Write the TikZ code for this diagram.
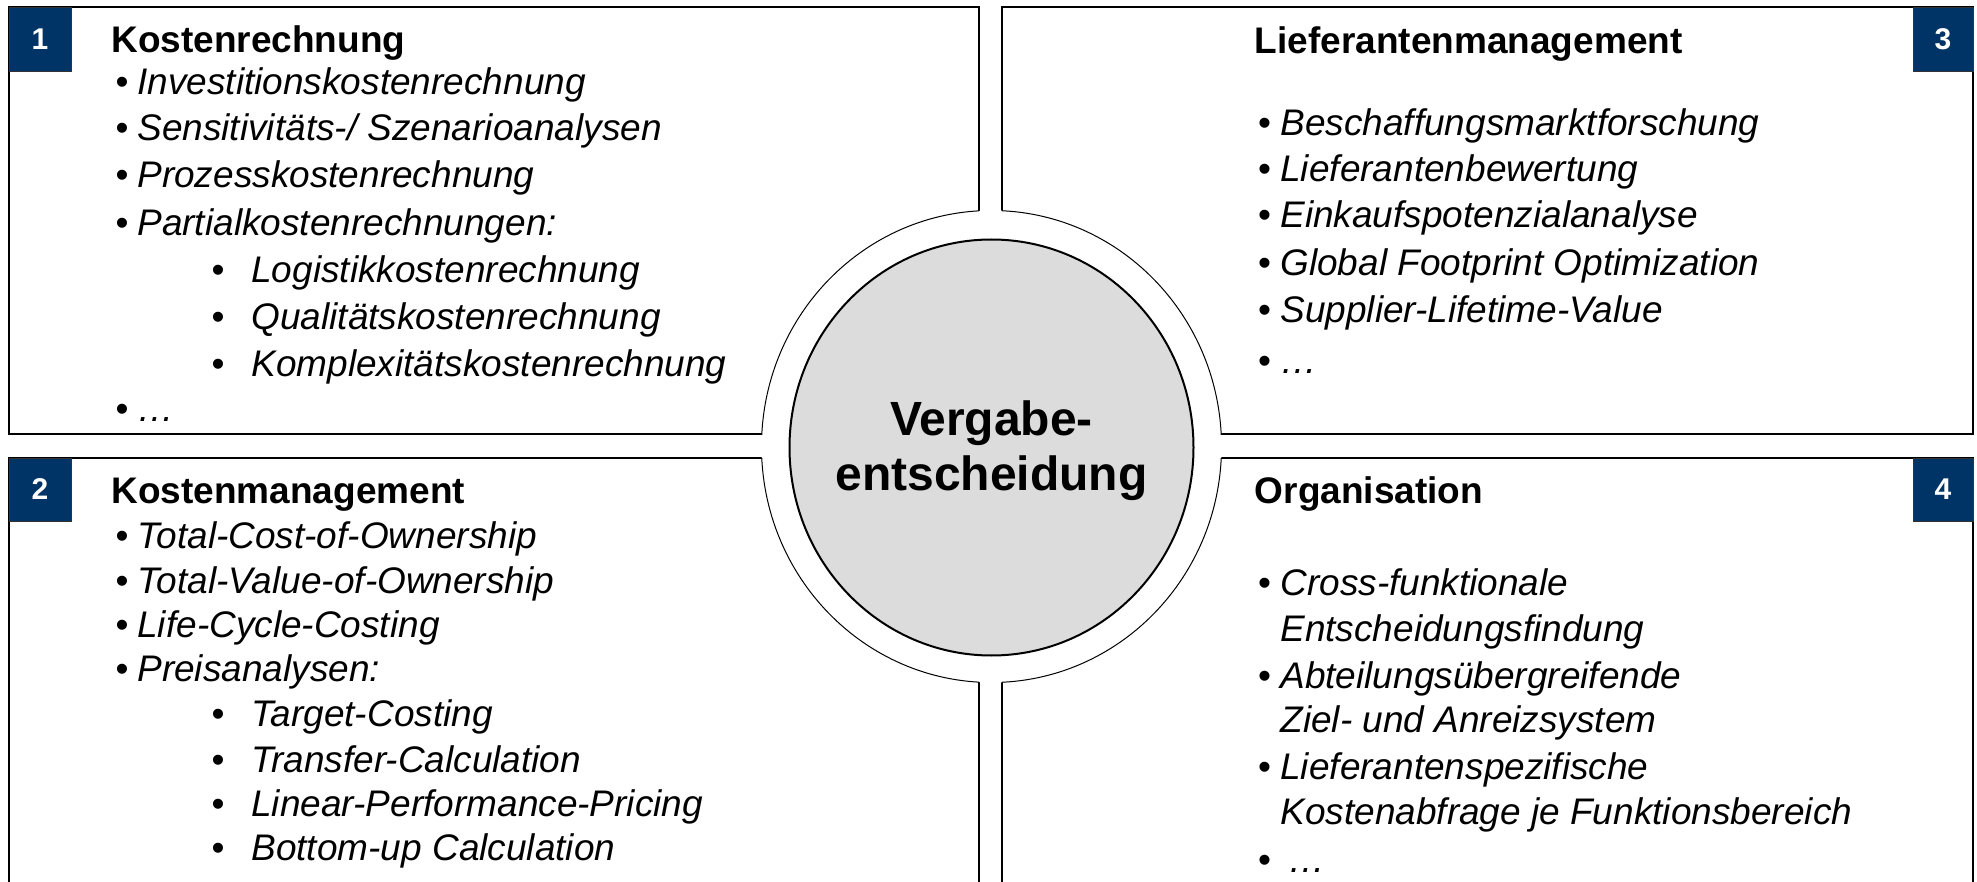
\documentclass[tikz,border=0pt]{standalone}
\usepackage{fontspec}
\setmainfont{Liberation Sans}
\definecolor{numblue}{RGB}{0,51,102}
\definecolor{hubgray}{RGB}{220,220,220}
% bullet item: #1 name, #2 bullet x, #3 text x, #4 baseline y, #5 text
\newcommand\bitem[5]{%
  \node[bul] (#1b) at (#2,#4) {•};
  \node[itm] (#1) at (#3,#4) {#5};}
\newcommand\citem[4]{\node[itm] (#1) at (#2,#3) {#4};}
\begin{document}
\begin{tikzpicture}[x=0.5pt,y=-0.5pt,
  boxline/.style={draw=black,line width=0.6pt,fill=white},
  numbox/.style={fill=numblue,draw=black!80,line width=0.4pt},
  numtxt/.style={text=white,font=\fontsize{15}{17}\selectfont\bfseries,inner sep=0pt},
  ttl/.style={anchor=base west,inner sep=0pt,font=\fontsize{18.5}{22}\selectfont\bfseries},
  itm/.style={anchor=base west,inner sep=0pt,font=\fontsize{18.5}{22}\selectfont\itshape},
  bul/.style={anchor=base,inner sep=0pt,font=\fontsize{18.5}{22}\selectfont},
  hubtxt/.style={anchor=base,inner sep=0pt,font=\fontsize{24}{27}\selectfont\bfseries},
  ring/.style={line width=0.5pt}]
\useasboundingbox (0,0) rectangle (1977,882);
\clip (0,0) rectangle (1977,882);
% quadrant boxes
\coordinate (c) at (991.5,446.5);
\path[boxline] (9,7) rectangle (979,434);
\path[boxline] (9,458) rectangle (979,900);
\path[boxline] (1002,7) rectangle (1973,434);
\path[boxline] (1002,458) rectangle (1973,900);
% white ring cut-out
\fill[white] (c) ellipse[x radius=115pt,y radius=118pt];
\begin{scope}\clip (9,7) rectangle (979,434);
  \draw[ring] (c) ellipse[x radius=115pt,y radius=118pt];\end{scope}
\begin{scope}\clip (9,458) rectangle (979,900);
  \draw[ring] (c) ellipse[x radius=115pt,y radius=118pt];\end{scope}
\begin{scope}\clip (1002,7) rectangle (1973,434);
  \draw[ring] (c) ellipse[x radius=115pt,y radius=118pt];\end{scope}
\begin{scope}\clip (1002,458) rectangle (1973,900);
  \draw[ring] (c) ellipse[x radius=115pt,y radius=118pt];\end{scope}
% hub
\draw[fill=hubgray,line width=1pt] (991.5,447.5) ellipse[x radius=101pt,y radius=104pt];
\node[hubtxt] (hub1) at (991.5,436) {Vergabe-};
\node[hubtxt] (hub2) at (991.5,490) {entscheidung};
% number boxes
\path[numbox] (9,7) rectangle (71,71);
\node[numtxt] (n1) at (40,39) {1};
\path[numbox] (9,458) rectangle (71,521);
\node[numtxt] (n2) at (40,489.5) {2};
\path[numbox] (1913,7) rectangle (1973,71);
\node[numtxt] (n3) at (1943,39) {3};
\path[numbox] (1913,458) rectangle (1973,521);
\node[numtxt] (n4) at (1943,489.5) {4};
% box 1
\node[ttl] (t1) at (111,53) {Kostenrechnung};
\bitem{a1}{122}{137}{94.6}{Investitionskostenrechnung}
\bitem{a2}{122}{137}{141}{Sensitivitäts-/ Szenarioanalysen}
\bitem{a3}{122}{137}{188}{Prozesskostenrechnung}
\bitem{a4}{122}{137}{236}{Partialkostenrechnungen:}
\bitem{a5}{218}{251}{283}{Logistikkostenrechnung}
\bitem{a6}{218}{251}{330}{Qualitätskostenrechnung}
\bitem{a7}{218}{251}{377}{Komplexitätskostenrechnung}
\bitem{a8}{122}{137}{422}{…}
% box 2
\node[ttl] (t2) at (111,503) {Kostenmanagement};
\bitem{b1}{122}{137}{548}{Total-Cost-of-Ownership}
\bitem{b2}{122}{137}{593}{Total-Value-of-Ownership}
\bitem{b3}{122}{137}{637}{Life-Cycle-Costing}
\bitem{b4}{122}{137}{681}{Preisanalysen:}
\bitem{b5}{218}{251}{726}{Target-Costing}
\bitem{b6}{218}{251}{772}{Transfer-Calculation}
\bitem{b7}{218}{251}{816}{Linear-Performance-Pricing}
\bitem{b8}{218}{251}{860}{Bottom-up Calculation}
% box 3
\node[ttl] (t3) at (1254.5,54) {Lieferantenmanagement};
\bitem{c1}{1264.5}{1280}{136}{Beschaffungsmarktforschung}
\bitem{c2}{1264.5}{1280}{181.6}{Lieferantenbewertung}
\bitem{c3}{1264.5}{1280}{228}{Einkaufspotenzialanalyse}
\bitem{c4}{1264.5}{1280}{276}{Global Footprint Optimization}
\bitem{c5}{1264.5}{1280}{323}{Supplier-Lifetime-Value}
\bitem{c6}{1264.5}{1280}{373}{…}
% box 4
\node[ttl] (t4) at (1254.5,503) {Organisation};
\bitem{d1}{1264.5}{1280}{595}{Cross-funktionale}
\citem{d2}{1280}{641}{Entscheidungsfindung}
\bitem{d3}{1264.5}{1280}{688}{Abteilungsübergreifende}
\citem{d4}{1280}{732.5}{Ziel- und Anreizsystem}
\bitem{d5}{1264.5}{1280}{779}{Lieferantenspezifische}
\citem{d6}{1280}{824.5}{Kostenabfrage je Funktionsbereich}
\bitem{d7}{1264.5}{1288.5}{872.5}{…}
\end{tikzpicture}
\end{document}
